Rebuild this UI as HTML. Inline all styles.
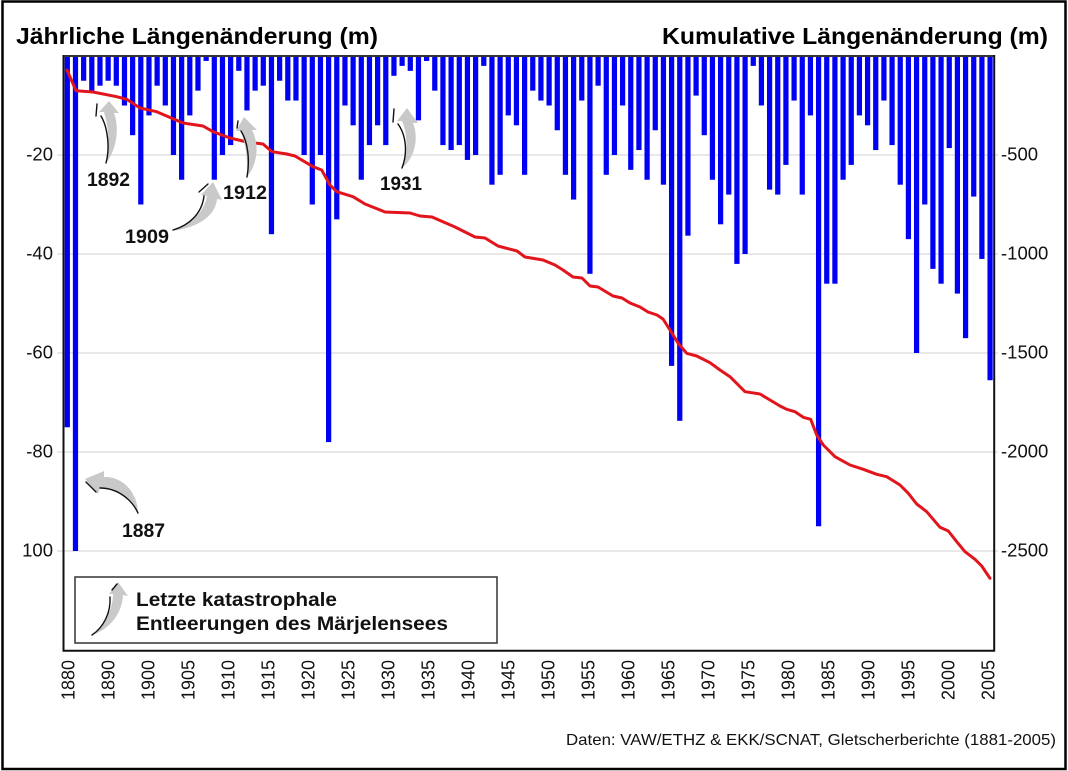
<!DOCTYPE html>
<html>
<head>
<meta charset="utf-8">
<style>
html,body{margin:0;padding:0;background:#fff;}
body{width:1068px;height:771px;overflow:hidden;}
svg{display:block;}
text{font-family:"Liberation Sans",Arial,sans-serif;}
</style>
</head>
<body>
<svg width="1068" height="771" viewBox="0 0 1068 771" xmlns="http://www.w3.org/2000/svg">
<rect x="0" y="0" width="1068" height="771" fill="#fff"/>
<!-- outer border -->
<rect x="2.5" y="1.5" width="1063" height="767.5" fill="none" stroke="#000" stroke-width="2.5"/>

<!-- titles -->
<text x="16" y="44" font-size="23" font-weight="bold" fill="#000" textLength="362" lengthAdjust="spacingAndGlyphs">Jährliche Längenänderung (m)</text>
<text x="662" y="44" font-size="23" font-weight="bold" fill="#000" textLength="386" lengthAdjust="spacingAndGlyphs">Kumulative Längenänderung (m)</text>

<!-- gridlines -->
<g stroke="#e0e0e0" stroke-width="1.5">
<line x1="57" y1="155" x2="998" y2="155"/>
<line x1="57" y1="254" x2="998" y2="254"/>
<line x1="57" y1="353" x2="998" y2="353"/>
<line x1="57" y1="452" x2="998" y2="452"/>
<line x1="57" y1="551" x2="998" y2="551"/>
</g>

<!-- bars -->
<g fill="#0000f5" transform="translate(64.7,56) scale(8.166,4.95)">
<rect x="0" y="0" width="0.64" height="75"/>
<rect x="1" y="0" width="0.64" height="100"/>
<rect x="2" y="0" width="0.64" height="5"/>
<rect x="3" y="0" width="0.64" height="7"/>
<rect x="4" y="0" width="0.64" height="6"/>
<rect x="5" y="0" width="0.64" height="5"/>
<rect x="6" y="0" width="0.64" height="6"/>
<rect x="7" y="0" width="0.64" height="10"/>
<rect x="8" y="0" width="0.64" height="16"/>
<rect x="9" y="0" width="0.64" height="30"/>
<rect x="10" y="0" width="0.64" height="12"/>
<rect x="11" y="0" width="0.64" height="6"/>
<rect x="12" y="0" width="0.64" height="10"/>
<rect x="13" y="0" width="0.64" height="20"/>
<rect x="14" y="0" width="0.64" height="25"/>
<rect x="15" y="0" width="0.64" height="12"/>
<rect x="16" y="0" width="0.64" height="7"/>
<rect x="17" y="0" width="0.64" height="1"/>
<rect x="18" y="0" width="0.64" height="25"/>
<rect x="19" y="0" width="0.64" height="20"/>
<rect x="20" y="0" width="0.64" height="18"/>
<rect x="21" y="0" width="0.64" height="3"/>
<rect x="22" y="0" width="0.64" height="11"/>
<rect x="23" y="0" width="0.64" height="7"/>
<rect x="24" y="0" width="0.64" height="6"/>
<rect x="25" y="0" width="0.64" height="36"/>
<rect x="26" y="0" width="0.64" height="5"/>
<rect x="27" y="0" width="0.64" height="9"/>
<rect x="28" y="0" width="0.64" height="9"/>
<rect x="29" y="0" width="0.64" height="20"/>
<rect x="30" y="0" width="0.64" height="30"/>
<rect x="31" y="0" width="0.64" height="20"/>
<rect x="32" y="0" width="0.64" height="78"/>
<rect x="33" y="0" width="0.64" height="33"/>
<rect x="34" y="0" width="0.64" height="10"/>
<rect x="35" y="0" width="0.64" height="14"/>
<rect x="36" y="0" width="0.64" height="25"/>
<rect x="37" y="0" width="0.64" height="18"/>
<rect x="38" y="0" width="0.64" height="14"/>
<rect x="39" y="0" width="0.64" height="18"/>
<rect x="40" y="0" width="0.64" height="4"/>
<rect x="41" y="0" width="0.64" height="2"/>
<rect x="42" y="0" width="0.64" height="3"/>
<rect x="43" y="0" width="0.64" height="13"/>
<rect x="44" y="0" width="0.64" height="1"/>
<rect x="45" y="0" width="0.64" height="7"/>
<rect x="46" y="0" width="0.64" height="18"/>
<rect x="47" y="0" width="0.64" height="19"/>
<rect x="48" y="0" width="0.64" height="18"/>
<rect x="49" y="0" width="0.64" height="21"/>
<rect x="50" y="0" width="0.64" height="20"/>
<rect x="51" y="0" width="0.64" height="2"/>
<rect x="52" y="0" width="0.64" height="26"/>
<rect x="53" y="0" width="0.64" height="24"/>
<rect x="54" y="0" width="0.64" height="12"/>
<rect x="55" y="0" width="0.64" height="14"/>
<rect x="56" y="0" width="0.64" height="24"/>
<rect x="57" y="0" width="0.64" height="7"/>
<rect x="58" y="0" width="0.64" height="9"/>
<rect x="59" y="0" width="0.64" height="10"/>
<rect x="60" y="0" width="0.64" height="15"/>
<rect x="61" y="0" width="0.64" height="24"/>
<rect x="62" y="0" width="0.64" height="29"/>
<rect x="63" y="0" width="0.64" height="9"/>
<rect x="64" y="0" width="0.64" height="44"/>
<rect x="65" y="0" width="0.64" height="6"/>
<rect x="66" y="0" width="0.64" height="24"/>
<rect x="67" y="0" width="0.64" height="20"/>
<rect x="68" y="0" width="0.64" height="10"/>
<rect x="69" y="0" width="0.64" height="23"/>
<rect x="70" y="0" width="0.64" height="19"/>
<rect x="71" y="0" width="0.64" height="25"/>
<rect x="72" y="0" width="0.64" height="15"/>
<rect x="73" y="0" width="0.64" height="26"/>
<rect x="74" y="0" width="0.64" height="62.6"/>
<rect x="75" y="0" width="0.64" height="73.7"/>
<rect x="76" y="0" width="0.64" height="36.3"/>
<rect x="77" y="0" width="0.64" height="8"/>
<rect x="78" y="0" width="0.64" height="16"/>
<rect x="79" y="0" width="0.64" height="25"/>
<rect x="80" y="0" width="0.64" height="34"/>
<rect x="81" y="0" width="0.64" height="28"/>
<rect x="82" y="0" width="0.64" height="42"/>
<rect x="83" y="0" width="0.64" height="40"/>
<rect x="84" y="0" width="0.64" height="2"/>
<rect x="85" y="0" width="0.64" height="10"/>
<rect x="86" y="0" width="0.64" height="27"/>
<rect x="87" y="0" width="0.64" height="28"/>
<rect x="88" y="0" width="0.64" height="22"/>
<rect x="89" y="0" width="0.64" height="9"/>
<rect x="90" y="0" width="0.64" height="28"/>
<rect x="91" y="0" width="0.64" height="12"/>
<rect x="92" y="0" width="0.64" height="95"/>
<rect x="93" y="0" width="0.64" height="46"/>
<rect x="94" y="0" width="0.64" height="46"/>
<rect x="95" y="0" width="0.64" height="25"/>
<rect x="96" y="0" width="0.64" height="22"/>
<rect x="97" y="0" width="0.64" height="12"/>
<rect x="98" y="0" width="0.64" height="14"/>
<rect x="99" y="0" width="0.64" height="19"/>
<rect x="100" y="0" width="0.64" height="9"/>
<rect x="101" y="0" width="0.64" height="18"/>
<rect x="102" y="0" width="0.64" height="26"/>
<rect x="103" y="0" width="0.64" height="37"/>
<rect x="104" y="0" width="0.64" height="60"/>
<rect x="105" y="0" width="0.64" height="30"/>
<rect x="106" y="0" width="0.64" height="43"/>
<rect x="107" y="0" width="0.64" height="46"/>
<rect x="108" y="0" width="0.64" height="18.6"/>
<rect x="109" y="0" width="0.64" height="48"/>
<rect x="110" y="0" width="0.64" height="57"/>
<rect x="111" y="0" width="0.64" height="28.4"/>
<rect x="112" y="0" width="0.64" height="41"/>
<rect x="113" y="0" width="0.64" height="65.5"/>
</g>

<!-- cumulative red line -->
<polyline fill="none" stroke="#e2141c" stroke-width="3" stroke-linejoin="round" stroke-linecap="round"
points="67,70 76,90.7 93,92 116.7,96.7 126.7,99.3 140,108 156.7,111.7 183,123 203,126 213,131.7 230,138 247,142 263,144 272,151.7 286.7,154 295,156 313,166.7 321.7,170 330,185 336.7,191.7 353,196.7 365,204 385,212 410,213 420,216 432,217 455,227 475,237 485,238 498,246 517,251 525,257 543,260 555,265 563,270 573,277 582,278 590,286 598,287 613,296 622,298 630,303 640,307 648,312 657,315 663,319 670,330 678,343 686.7,353.3 696.7,356 710,362.7 720,370 730,376.7 745,391.7 760,394 770,400 780,406 786.7,409.3 795,411.7 803.3,417.3 810.7,419.3 816.7,435 823.3,445 835,456.7 850,465 863.3,469.3 876.7,474.3 886.7,476.7 900,485 908.3,493.3 916.7,504 926.7,511.7 940,527.3 948.3,531 956.7,541.7 965,551.7 975,559.3 981.7,566 990,578.3"/>

<!-- plot frame -->
<line x1="63.5" y1="56" x2="994" y2="56" stroke="#333" stroke-width="2"/>
<line x1="63.5" y1="55" x2="63.5" y2="651.5" stroke="#111" stroke-width="2"/>
<line x1="62.5" y1="650.8" x2="995" y2="650.8" stroke="#111" stroke-width="2"/>
<line x1="994.2" y1="55" x2="994.2" y2="651.5" stroke="#111" stroke-width="2"/>

<!-- left axis labels -->
<g font-size="18.5" fill="#111" text-anchor="end">
<text x="53" y="160.5">-20</text>
<text x="53" y="259.5">-40</text>
<text x="53" y="358.5">-60</text>
<text x="53" y="457.5">-80</text>
<text x="53" y="556.5">100</text>
</g>
<!-- right axis labels -->
<g font-size="18.5" fill="#111" text-anchor="start">
<text x="1001" y="160.5">-500</text>
<text x="1001" y="259.5">-1000</text>
<text x="1001" y="358.5">-1500</text>
<text x="1001" y="457.5">-2000</text>
<text x="1001" y="556.5">-2500</text>
</g>

<!-- x axis labels (rotated) -->
<g font-size="18" fill="#111" text-anchor="end">
<text transform="translate(74.5,660) rotate(-90)">1880</text>
<text transform="translate(114.5,660) rotate(-90)">1890</text>
<text transform="translate(154.5,660) rotate(-90)">1900</text>
<text transform="translate(194.5,660) rotate(-90)">1905</text>
<text transform="translate(234.5,660) rotate(-90)">1910</text>
<text transform="translate(274.5,660) rotate(-90)">1915</text>
<text transform="translate(314.5,660) rotate(-90)">1920</text>
<text transform="translate(354.5,660) rotate(-90)">1925</text>
<text transform="translate(394.5,660) rotate(-90)">1930</text>
<text transform="translate(434.5,660) rotate(-90)">1935</text>
<text transform="translate(474.5,660) rotate(-90)">1940</text>
<text transform="translate(514.5,660) rotate(-90)">1945</text>
<text transform="translate(554.5,660) rotate(-90)">1950</text>
<text transform="translate(594.5,660) rotate(-90)">1955</text>
<text transform="translate(634.5,660) rotate(-90)">1960</text>
<text transform="translate(674.5,660) rotate(-90)">1965</text>
<text transform="translate(714.5,660) rotate(-90)">1970</text>
<text transform="translate(754.5,660) rotate(-90)">1975</text>
<text transform="translate(794.5,660) rotate(-90)">1980</text>
<text transform="translate(834.5,660) rotate(-90)">1985</text>
<text transform="translate(874.5,660) rotate(-90)">1990</text>
<text transform="translate(914.5,660) rotate(-90)">1995</text>
<text transform="translate(954.5,660) rotate(-90)">2000</text>
<text transform="translate(994.5,660) rotate(-90)">2005</text>
</g>

<!-- annotation arrows -->
<g fill="#c9c9c9" stroke="none">
<path d="M106,163 C116,150 120,130 114,113 L119,113 L109,101 L99,112 L104,112 C109,128 110,148 106,163 Z"/>
<path d="M247,177 C257,165 260,145 252,130 L257,130 L244,117 L236,131 L241,131 C246,145 248,163 247,177 Z"/>
<path d="M402,168 C415,158 419,138 413,123 L418,123 L407,108 L397,121 L402,121 C408,135 408,155 402,168 Z"/>
<path d="M172,231 C195,228 215,218 217,199 L222,200 L213,182 L201,195 L207,196 C204,213 190,225 172,231 Z"/>
<path d="M138,514 C138,492 122,476 104,477 L104,471 L85,479 L98,494 L100,488 C118,487 132,498 138,514 Z"/>
</g>
<g fill="none" stroke="#111" stroke-width="1.4" stroke-linecap="round">
<path d="M106,163 C110,148 108,128 101,116 M97,104 L96,116"/>
<path d="M247,177 C250,160 248,142 241,131 M238,121 L237,128"/>
<path d="M402,168 C408,152 406,135 398,124 M394,109 L393,122"/>
<path d="M173,230 C190,225 202,213 204,196 M199,192 L208,184"/>
<path d="M138,513 C132,500 118,488 100,488 M86,482 L96,492"/>
</g>

<!-- annotation labels -->
<g font-size="19" font-weight="bold" fill="#111">
<text x="87" y="186" textLength="43" lengthAdjust="spacingAndGlyphs">1892</text>
<text x="223" y="199" textLength="44" lengthAdjust="spacingAndGlyphs">1912</text>
<text x="125" y="243" textLength="44" lengthAdjust="spacingAndGlyphs">1909</text>
<text x="380" y="190" textLength="42" lengthAdjust="spacingAndGlyphs">1931</text>
<text x="122" y="537" textLength="43" lengthAdjust="spacingAndGlyphs">1887</text>
</g>

<!-- legend -->
<rect x="75" y="577" width="422" height="66" fill="#fff" stroke="#333" stroke-width="1.5"/>
<path d="M92,635 C108,630 122,615 123,595 L128,596 L118,582 L109,594 L113,594 C113,610 104,625 92,635 Z" fill="#c9c9c9"/>
<path d="M92,635 C104,627 111,612 110,597 M112,590 L117,584" fill="none" stroke="#111" stroke-width="1.4" stroke-linecap="round"/>
<g font-size="19" font-weight="bold" fill="#111">
<text x="136" y="606" textLength="201" lengthAdjust="spacingAndGlyphs">Letzte katastrophale</text>
<text x="136" y="630" textLength="312" lengthAdjust="spacingAndGlyphs">Entleerungen des Märjelensees</text>
</g>

<!-- source -->
<text x="566" y="745" font-size="16" fill="#111" textLength="490" lengthAdjust="spacingAndGlyphs">Daten: VAW/ETHZ &amp; EKK/SCNAT, Gletscherberichte (1881-2005)</text>
</svg>
</body>
</html>
